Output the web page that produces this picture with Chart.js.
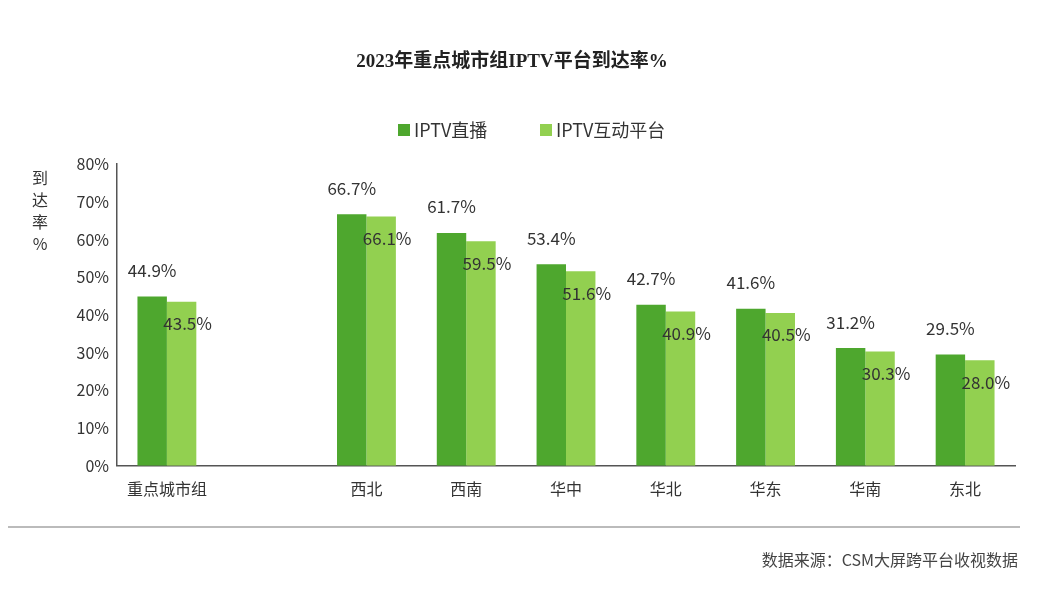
<!DOCTYPE html>
<html><head><meta charset="utf-8">
<script src="https://cdn.jsdelivr.net/npm/chart.js@4"></script>
<style>body{margin:0;background:#fff}#wrap{width:1048px;height:593px}</style>
</head><body><div id="wrap"><canvas id="myChart"></canvas></div>
<script>
var categories = ["重点城市组", "", "西北", "西南", "华中", "华北", "华东", "华南", "东北"];
var liveValues = [44.9, null, 66.7, 61.7, 53.4, 42.7, 41.6, 31.2, 29.5];
var interactiveValues = [43.5, null, 66.1, 59.5, 51.6, 40.9, 40.5, 30.3, 28.0];
var seriesNames = ["IPTV直播", "IPTV互动平台"];
var colors = ["#4ea72e", "#92d050"];
var FONT = "'Noto Sans CJK SC', 'Noto Sans', sans-serif";

// title, legend, labels, footer
var extras = {
  id: 'extras',
  afterDatasetsDraw: function(chart) {
    var c = chart.ctx;
    c.save();
    c.fillStyle = '#222';
    c.textAlign = 'center';
    c.textBaseline = 'middle';
    c.font = "bold 19px 'Liberation Serif', 'Noto Sans CJK SC', serif";
    c.fillText("2023年重点城市组IPTV平台到达率%", 512, 62);

    // legend
    c.font = "18px " + FONT;
    c.textAlign = 'left';
    var lx = [398, 540];
    seriesNames.forEach(function(n, i) {
      c.fillStyle = colors[i];
      c.fillRect(lx[i], 124, 12, 12);
      c.fillStyle = '#333';
      c.fillText(n, lx[i] + 16, 130);
    });

    // axis title
    c.font = "16px " + FONT;
    c.textAlign = 'center';
    "到达率%".split("").forEach(function(ch, i) {
      c.fillText(ch, 40, 178 + i * 22);
    });

    // value labels
    c.font = "17px " + FONT;
    c.fillStyle = '#333';
    var m0 = chart.getDatasetMeta(0), m1 = chart.getDatasetMeta(1);
    m0.data.forEach(function(bar, i) {
      if (liveValues[i] == null) return;
      c.fillText(liveValues[i].toFixed(1) + "%", bar.x, bar.y - 26);
    });
    m1.data.forEach(function(bar, i) {
      if (interactiveValues[i] == null) return;
      c.fillText(interactiveValues[i].toFixed(1) + "%", bar.x + 6, bar.y + 22);
    });

    // footer
    c.strokeStyle = '#bbb';
    c.lineWidth = 2;
    c.beginPath(); c.moveTo(8, 527); c.lineTo(1020, 527); c.stroke();
    c.textAlign = 'right';
    c.font = "16px " + FONT;
    c.fillStyle = '#444';
    c.fillText("数据来源：CSM大屏跨平台收视数据", 1018, 560);
    c.restore();
  }
};

new Chart(document.getElementById("myChart"), {
  type: 'bar',
  data: {
    labels: categories,
    datasets: [
      { label: seriesNames[0], data: liveValues, backgroundColor: colors[0], barPercentage: 1, categoryPercentage: 0.59 },
      { label: seriesNames[1], data: interactiveValues, backgroundColor: colors[1], barPercentage: 1, categoryPercentage: 0.59 }
    ]
  },
  options: {
    responsive: true,
    maintainAspectRatio: false,
    animation: false,
    layout: { padding: { top: 164, right: 33, bottom: 88, left: 0 } },
    plugins: { legend: { display: false }, title: { display: false }, tooltip: { enabled: false } },
    scales: {
      x: {
        grid: { display: false, drawTicks: true },
        border: { color: '#555', width: 1.5 },
        ticks: { color: '#333', font: { size: 16, family: FONT }, padding: 6 }
      },
      y: {
        min: 0, max: 80,
        afterFit: function(s) { s.width = 117; },
        grid: { display: false, drawTicks: true, tickLength: 5 },
        border: { color: '#555', width: 1.5 },
        ticks: { stepSize: 10, color: '#333', font: { size: 16, family: FONT }, callback: function(v) { return v + "%"; } }
      }
    }
  },
  plugins: [extras]
});
</script></body></html>
